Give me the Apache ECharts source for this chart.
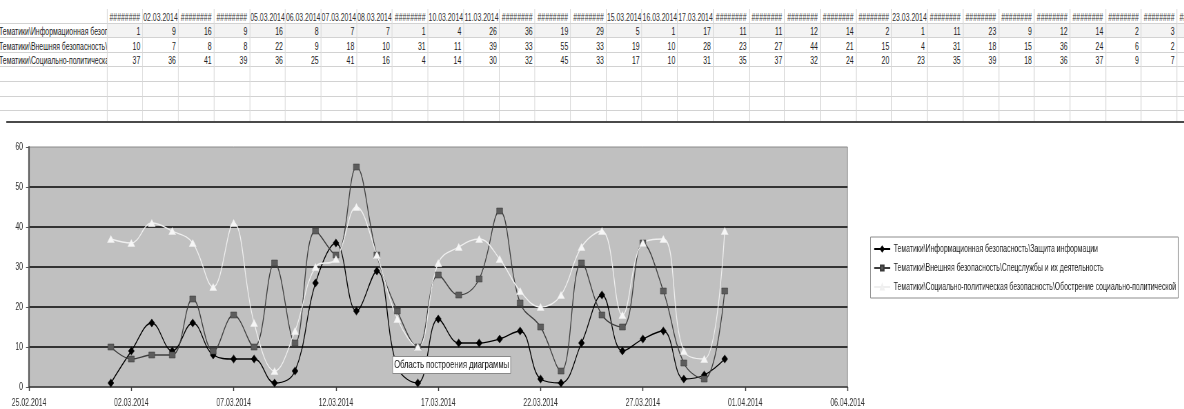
<!DOCTYPE html>
<html>
<head>
<meta charset="utf-8">
<script src="https://cdn.jsdelivr.net/npm/echarts@6/dist/echarts.min.js"></script>
<style>
  html, body { margin: 0; padding: 0; background: #fff; overflow: hidden; width: 1184px; height: 409px; }
  /* The page is laid out wide and squeezed horizontally, giving the condensed look of the sheet */
  #page { position: absolute; left: 0; top: 0; height: 409px; transform-origin: 0 0; }
  #chart { position: absolute; left: 0; top: 0; height: 409px; }
  #sheet { position: absolute; left: 0; top: 0; height: 122px; overflow: hidden; background: #fff; z-index: 2; }
  #sheet table { position: absolute; left: 0; top: 9px; border-collapse: collapse; table-layout: fixed;
    font-family: "Liberation Sans", Arial, sans-serif; font-size: 10px; color: #222; }
  #sheet td { height: 13.6px; padding: 0 3px 0 0; border: 1px solid #d2d2d2; white-space: nowrap; overflow: hidden;
    text-align: right; vertical-align: bottom; line-height: 11px; }
  #sheet td.lab { text-align: left; padding: 0; border-left: none; text-indent: -1px; }
  #sheet tr.head td { text-align: center; padding: 0; border-top: none; color: #333; font-size: 10px; }
  #sheet tr.r1 td.num { background: #f3f3f3; }
  #rule { position: absolute; top: 121px; height: 2px; background: #4a4a4a; z-index: 3; }
</style>
</head>
<body>
<div id="page">
  <div id="chart"></div>
  <div id="sheet"></div>
  <div id="rule"></div>
</div>
<script>
// Daily mention counts, March 2014
const dates = [
  '01.03.2014','02.03.2014','03.03.2014','04.03.2014','05.03.2014','06.03.2014','07.03.2014','08.03.2014',
  '09.03.2014','10.03.2014','11.03.2014','12.03.2014','13.03.2014','14.03.2014','15.03.2014','16.03.2014',
  '17.03.2014','18.03.2014','19.03.2014','20.03.2014','21.03.2014','22.03.2014','23.03.2014','24.03.2014',
  '25.03.2014','26.03.2014','27.03.2014','28.03.2014','29.03.2014','30.03.2014','31.03.2014'
];
// Header cells as the sheet shows them (narrow columns overflow to ########)
const headerLabels = [
  '########','02.03.2014','########','########','05.03.2014','06.03.2014','07.03.2014','08.03.2014',
  '########','10.03.2014','11.03.2014','########','########','########','15.03.2014','16.03.2014',
  '17.03.2014','########','########','########','########','########','23.03.2014','########',
  '########','########','########','########','########','########','########'
];
const seriesNames = [
  'Тематики\\Информационная безопасность\\Защита информации',
  'Тематики\\Внешняя безопасность\\Спецслужбы и их деятельность',
  'Тематики\\Социально-политическая безопасность\\Обострение социально-политической ситуации'
];
const infoSecurity = [1,9,16,9,16,8,7,7,1,4,26,36,19,29,5,1,17,11,11,12,14,2,1,11,23,9,12,14,2,3,7];
const externalSecurity = [10,7,8,8,22,9,18,10,31,11,39,33,55,33,19,10,28,23,27,44,21,15,4,31,18,15,36,24,6,2,24];
const socialPolitical = [37,36,41,39,36,25,41,16,4,14,30,32,45,33,17,10,31,35,37,32,24,20,23,35,39,18,36,37,9,7,39];
const xTickLabels = ['25.02.2014','02.03.2014','07.03.2014','12.03.2014','17.03.2014','22.03.2014','27.03.2014','01.04.2014','06.04.2014'];
const yTicks = { min: 0, max: 60, step: 10 };
const tipText = 'Область построения диаграммы';

const seriesValues = [infoSecurity, externalSecurity, socialPolitical];

// horizontal squeeze factor
const K = 1.45;
const W = 1184 * K;
const page = document.getElementById('page');
page.style.width = W + 'px';
page.style.transform = 'scaleX(' + (1 / K) + ')';
document.getElementById('chart').style.width = W + 'px';
document.getElementById('sheet').style.width = W + 'px';
const rule = document.getElementById('rule');
rule.style.left = (6 * K) + 'px';
rule.style.width = (W - 6 * K) + 'px';

// ---- spreadsheet block ----
(function buildSheet() {
  const labW = 107 * K;
  const colW = 35.67 * K;
  let html = '<table style="width:' + (labW + colW * dates.length) + 'px"><colgroup><col style="width:' + labW + 'px">';
  dates.forEach(() => { html += '<col style="width:' + colW + 'px">'; });
  html += '</colgroup>';
  html += '<tr class="head"><td class="lab"></td>' + headerLabels.map(h => '<td>' + h + '</td>').join('') + '</tr>';
  seriesValues.forEach((vals, r) => {
    html += '<tr class="r' + (r + 1) + '"><td class="lab">' + seriesNames[r] + '</td>' +
      vals.map(v => '<td class="num">' + v + '</td>').join('') + '</tr>';
  });
  for (let k = 0; k < 4; k++) {
    html += '<tr><td class="lab"></td>' + dates.map(() => '<td></td>').join('') + '</tr>';
  }
  html += '</table>';
  document.getElementById('sheet').innerHTML = html;
})();

// ---- chart ----
const FONT = '"Liberation Sans", Arial, sans-serif';
function toUTC(s) {
  const p = s.split('.').map(Number);
  return Date.UTC(p[2], p[1] - 1, p[0]);
}
const origin = toUTC(xTickLabels[0]);
const DAY = 86400000;
const dayOf = s => Math.round((toUTC(s) - origin) / DAY);
const xMax = dayOf(xTickLabels[xTickLabels.length - 1]);
const xStep = dayOf(xTickLabels[1]);

// Legend entries are cut at the legend frame, like a clipped cell
const legendFontSize = 10;
const legendPad = [7, 3, 6, 3 * K];
const legendIconW = 16 * K;
const legendTextMax = (1178 - 870) * K - legendPad[1] - legendPad[3] - legendIconW - 5;
const measureCtx = document.createElement('canvas').getContext('2d');
measureCtx.font = legendFontSize + 'px ' + FONT;
function fitLegend(name) {
  let s = name;
  while (s.length > 1 && measureCtx.measureText(s).width > legendTextMax) s = s.slice(0, -1);
  return s;
}

const styles = [
  { symbol: 'diamond', size: [6, 8], fill: '#000', border: '#000', line: '#000' },
  { symbol: 'rect', size: [6, 6], fill: '#5c5c5c', border: '#3a3a3a', line: '#3e3e3e' },
  { symbol: 'triangle', size: [7, 7], fill: '#f6f6f6', border: '#f0f0f0', line: '#efefef' }
];

const chart = echarts.init(document.getElementById('chart'), null, { renderer: 'canvas', width: W, height: 409 });
chart.setOption({
  animation: false,
  backgroundColor: '#fff',
  grid: { left: 29 * K, right: (1184 - 847) * K, top: 147, bottom: 22, show: true,
    backgroundColor: '#c0c0c0', borderColor: '#8a8a8a', borderWidth: 1 },
  xAxis: {
    type: 'value', min: 0, max: xMax, interval: xStep,
    axisLine: { show: true, lineStyle: { color: '#3a3a3a', width: 1.5 } },
    axisTick: { show: true, length: 4, lineStyle: { color: '#3a3a3a', width: K } },
    axisLabel: { margin: 11, fontSize: 10, color: '#333', fontFamily: FONT,
      formatter: v => xTickLabels[Math.round(v / xStep)] || '' },
    splitLine: { show: false }
  },
  yAxis: {
    type: 'value', min: yTicks.min, max: yTicks.max, interval: yTicks.step,
    axisLine: { show: true, lineStyle: { color: '#555', width: 1.5 * K } },
    axisTick: { show: true, length: 3 * K, lineStyle: { color: '#555' } },
    axisLabel: { margin: 6 * K, fontSize: 10, color: '#333', fontFamily: FONT },
    splitLine: { show: true, showMinLine: false, showMaxLine: false, lineStyle: { color: '#333', width: 2 } }
  },
  legend: {
    orient: 'vertical', left: 870 * K, top: 237,
    itemWidth: legendIconW, itemHeight: 6, itemGap: 9,
    backgroundColor: '#fff', borderColor: '#8c8c8c', borderWidth: 1,
    padding: legendPad,
    textStyle: { fontSize: legendFontSize, color: '#222', fontFamily: FONT },
    formatter: fitLegend,
    data: seriesNames
  },
  series: seriesValues.map((vals, i) => ({
    name: seriesNames[i],
    type: 'line',
    smooth: 0.4,
    symbol: styles[i].symbol,
    symbolSize: [styles[i].size[0] * K, styles[i].size[1]],
    showAllSymbol: true,
    itemStyle: { color: styles[i].fill, borderColor: styles[i].border, borderWidth: 0.5 },
    lineStyle: { color: styles[i].line, width: 1.3 },
    data: dates.map((d, k) => [dayOf(d), vals[k]])
  })),
  graphic: [{
    type: 'group', left: 392 * K, top: 356,
    children: [
      { type: 'rect', z: 100, shape: { x: 0, y: 0, width: 118 * K, height: 17 }, style: { fill: '#fff', stroke: '#8a8a8a', lineWidth: 1 } },
      { type: 'text', z: 101, x: 59 * K, y: 8.5, style: { text: tipText, font: '11px ' + FONT, fill: '#111', align: 'center', verticalAlign: 'middle' } }
    ]
  }]
});
</script>
</body>
</html>
